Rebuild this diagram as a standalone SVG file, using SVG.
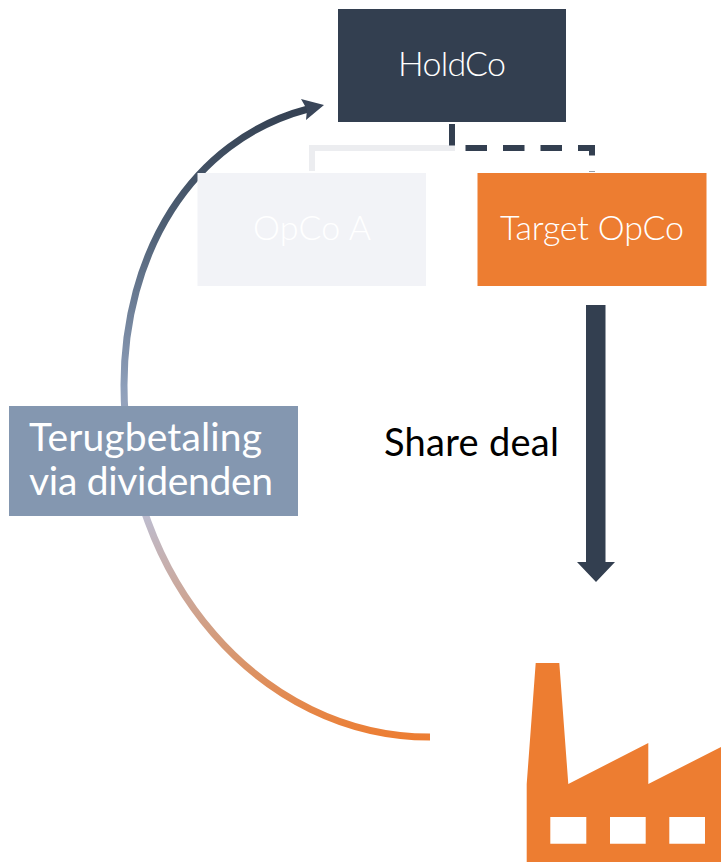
<svg xmlns="http://www.w3.org/2000/svg" width="721" height="862" viewBox="0 0 721 862">
<style>
text{font-family:"Lato","Liberation Sans",sans-serif}
.w{font-weight:300;fill:#fff;font-size:34px}
.l{font-weight:400;fill:#fff;font-size:39px}
</style>
<defs>
<linearGradient id="g" gradientUnits="userSpaceOnUse" x1="0" y1="100" x2="0" y2="740">
<stop offset="0" stop-color="#333f50"/>
<stop offset="0.2" stop-color="#4f6075"/>
<stop offset="0.45" stop-color="#8e9fba"/>
<stop offset="0.65" stop-color="#bdbcce"/>
<stop offset="0.85" stop-color="#d59a78"/>
<stop offset="1" stop-color="#ed7d31"/>
</linearGradient>
</defs>
<rect width="721" height="862" fill="#fff"/>
<g id="connectors" fill="none">
<path d="M312 171V148H455" stroke="#ecedf0" stroke-width="6"/>
<path d="M452 124V148H592V172" stroke="#333f50" stroke-width="6" stroke-dasharray="21.5 16"/>
<path d="M430 737C261 737 124 579 124 385C124 255 190 140 308 109" stroke="url(#g)" stroke-width="7"/>
<polygon points="324,105 301,99 307,109.500 306,120" fill="#3a4659"/>
<polygon points="586,305 605.500,305 605.500,562 615,562 596,582 577,562 586,562" fill="#333f50"/>
</g>
<g id="holdco"><rect x="338" y="9" width="228" height="113" fill="#333f50"/><text class="w" x="398" y="76" textLength="108">HoldCo</text></g>
<g id="opco-a"><rect x="197.500" y="173" width="228.500" height="113" fill="#f2f3f7"/><text class="w" x="253" y="240" textLength="118">OpCo A</text></g>
<g id="target-opco"><rect x="477.500" y="173" width="229" height="113" fill="#ed7d31"/><text class="w" x="500" y="240" textLength="184">Target OpCo</text></g>
<g id="terugbetaling"><rect x="9" y="406" width="289" height="110" fill="#8497b0"/><text class="l" x="29" y="451" textLength="233">Terugbetaling</text><text class="l" x="29" y="495" textLength="244">via dividenden</text></g>
<g id="share-deal"><text x="384" y="456" font-size="38" fill="#000" textLength="175">Share deal</text></g>
<g id="factory"><path fill-rule="evenodd" fill="#ed7d31" d="M535.700 663H559.300L568.300 784L648.300 743V784L721 747V862H526.700V784ZM550.300 817V843.700H586.300V817ZM610 817V843.700H645.700V817ZM669.300 817V843.700H705V817Z"/></g>
</svg>
